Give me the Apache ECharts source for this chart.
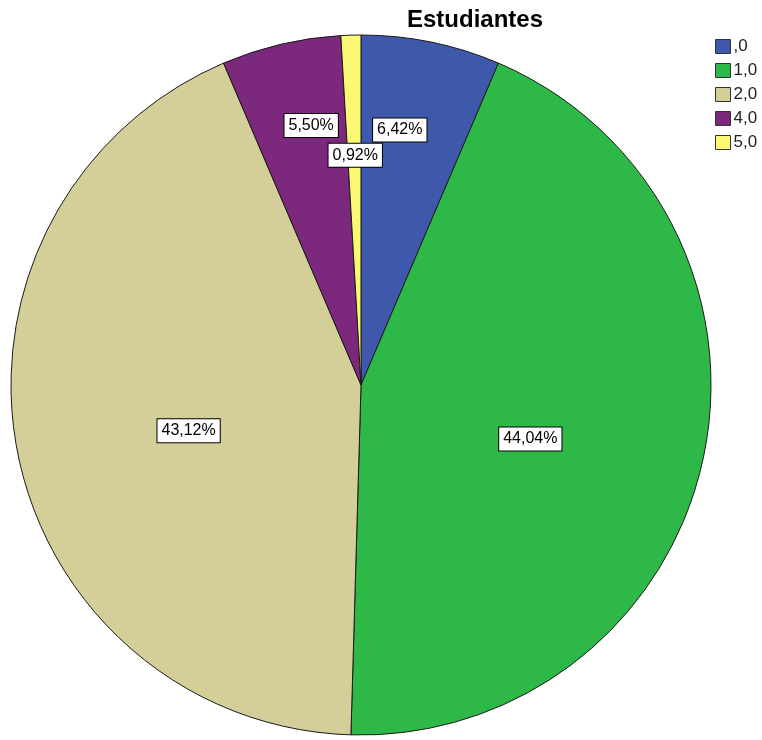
<!DOCTYPE html>
<html>
<head>
<meta charset="utf-8">
<script src="https://cdn.jsdelivr.net/npm/echarts@6/dist/echarts.min.js"></script>
<style>
  html, body { margin: 0; padding: 0; background: #fff; }
  #chart { width: 762px; height: 740px; }
</style>
</head>
<body>
<div id="chart"></div>
<script>
// datos
const categories = [',0', '1,0', '2,0', '4,0', '5,0'];
const counts = [7, 48, 47, 6, 1];
const colors = ['#3E58AC', '#2EB848', '#D4CE98', '#7B287D', '#FBF873'];

// distancia de cada etiqueta al centro (fraccion del radio) y ajuste fino
const labelRadius = [0.74, 0.51, 0.51, 0.76, 0.66];
const labelShift = [[-14, 3], [-8, 15], [6, 12], [12, 4], [1, 5]];

const CX = 361, CY = 385, R = 350;

const chart = echarts.init(document.getElementById('chart'));

const option = {
  animation: false,
  title: {
    text: 'Estudiantes',
    left: 407,
    top: 8,
    padding: 0,
    textStyle: { fontFamily: 'Liberation Sans', fontWeight: 'bold', fontSize: 24, color: '#000' }
  },
  legend: {
    orient: 'vertical',
    left: 715,
    top: 38,
    padding: 0,
    icon: 'rect',
    itemWidth: 15,
    itemHeight: 14,
    itemGap: 7,
    data: categories,
    itemStyle: { borderColor: '#333', borderWidth: 1 },
    textStyle: { fontFamily: 'Liberation Sans', fontSize: 17, color: '#222', padding: [0, 0, 0, -2] }
  },
  series: [
    {
      type: 'pie',
      center: [CX, CY],
      radius: R,
      startAngle: 90,
      clockwise: true,
      data: categories.map((c, i) => ({
        name: c,
        value: counts[i],
        itemStyle: { color: colors[i] }
      })),
      itemStyle: { borderColor: '#1a1a1a', borderWidth: 1 },
      emphasis: { disabled: true },
      label: {
        show: true,
        position: 'inside',
        formatter: p => p.percent.toFixed(2).replace('.', ',') + '%',
        fontFamily: 'Liberation Sans',
        fontSize: 16,
        color: '#000',
        backgroundColor: '#fff',
        borderColor: '#000',
        borderWidth: 1,
        padding: [4, 4, 3, 4]
      },
      labelLine: { show: false },
      labelLayout: function (params) {
        const i = params.dataIndex;
        const r = params.labelRect;
        const mx = r.x + r.width / 2 - CX;
        const my = r.y + r.height / 2 - CY;
        const k = labelRadius[i] / 0.5 - 1;
        return { dx: mx * k + labelShift[i][0], dy: my * k + labelShift[i][1] };
      }
    }
  ]
};

chart.setOption(option);
</script>
</body>
</html>
